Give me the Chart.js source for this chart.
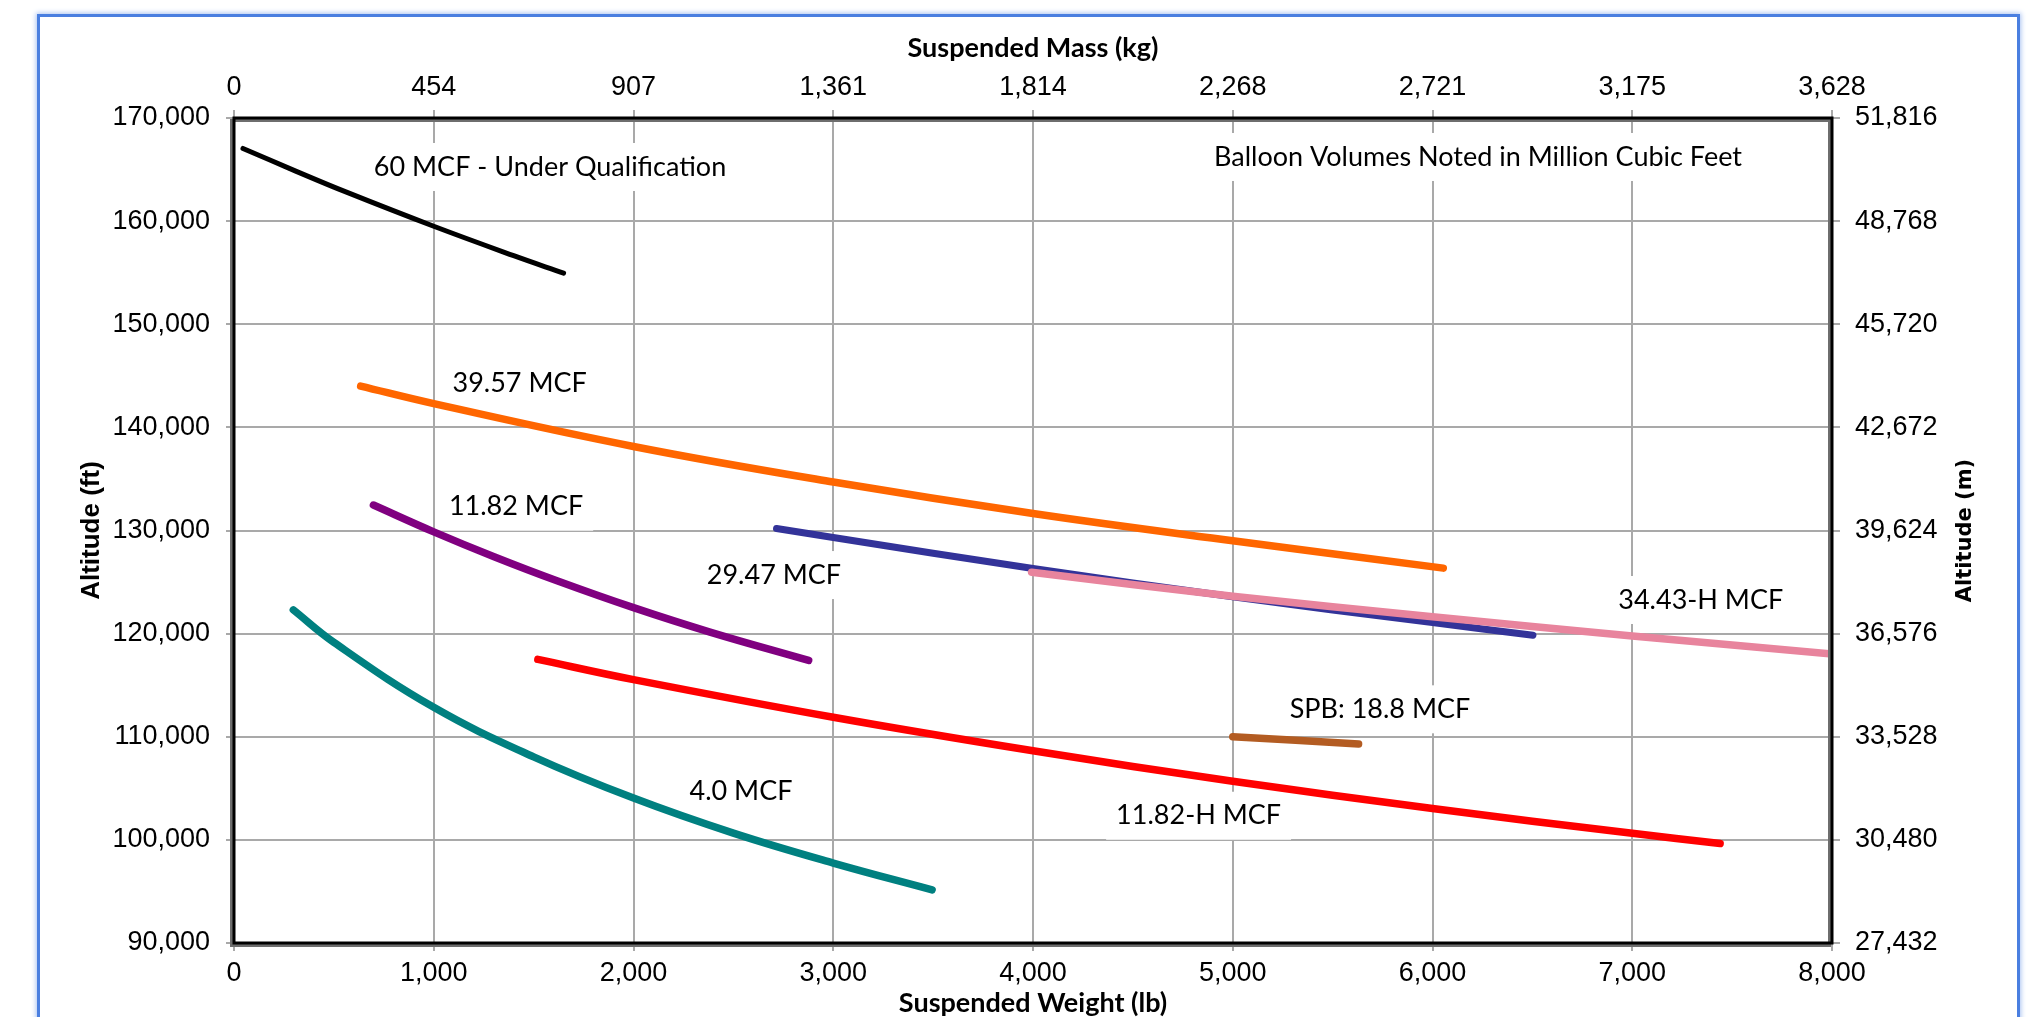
<!DOCTYPE html>
<html>
<head>
<meta charset="utf-8">
<script src="https://cdn.jsdelivr.net/npm/chart.js@4.4.0/dist/chart.umd.min.js"></script>
<style>
  html, body { margin: 0; padding: 0; background: #fff; overflow: hidden; }
  #frame { position: absolute; left: 37px; top: 14px; width: 1977px; height: 1100px;
           border: 3px solid #4a7fe0; box-shadow: 0 0 5px 1px #a9c2f2; }
  #wrap { position: absolute; left: 0; top: 0; width: 2028px; height: 1060px; }
</style>
</head>
<body>
<div id="frame"></div>
<div id="wrap"><canvas id="altChart" width="2028" height="1060"></canvas></div>
<script>
// tick labels
const weightLabels = ['0', '1,000', '2,000', '3,000', '4,000', '5,000', '6,000', '7,000', '8,000'];
const massLabels = ['0', '454', '907', '1,361', '1,814', '2,268', '2,721', '3,175', '3,628'];
const altFtLabels = ['90,000', '100,000', '110,000', '120,000', '130,000', '140,000', '150,000', '160,000', '170,000'];
const altMLabels = ['27,432', '30,480', '33,528', '36,576', '39,624', '42,672', '45,720', '48,768', '51,816'];

// suspended weight (lb) / altitude (ft)
const w60 = [45, 309, 560, 1000, 1400, 1650];
const alt60 = [167050, 164850, 162830, 159500, 156650, 154950];

const w3957 = [634, 1000, 2000, 3000, 4000, 5000, 6054];
const alt3957 = [144000, 142300, 138150, 134700, 131650, 129000, 126350];

const w3443h = [3993, 5000, 6000, 7000, 8000];
const alt3443h = [125950, 123630, 121630, 119780, 118030];

const w2947 = [2716, 3000, 4000, 5000, 6000, 6503];
const alt2947 = [130200, 129320, 126320, 123570, 121070, 119850];

const w1182 = [698, 1000, 1302, 1617, 2000, 2383, 2877];
const alt1182 = [132470, 129870, 127460, 125130, 122520, 120150, 117400];

const w1182h = [1521, 2000, 3000, 4000, 5000, 6000, 7000, 7440];
const alt1182h = [117500, 115540, 111890, 108640, 105690, 103040, 100640, 99650];

const w40 = [297, 500, 1000, 1500, 2000, 2500, 3000, 3495];
const alt40 = [122300, 119150, 112850, 108050, 104050, 100650, 97750, 95150];

const wSpb = [5000, 5630];
const altSpb = [110000, 109300];

// text notes on the plot, anchored in lb / ft
const notes = [
    { text: '60 MCF - Under Qualification', x: 1582, y: 165250 },
    { text: 'Balloon Volumes Noted in Million Cubic Feet', x: 6228, y: 166220 },
    { text: '39.57 MCF', x: 1430, y: 144270 },
    { text: '11.82 MCF', x: 1412, y: 132310 },
    { text: '29.47 MCF', x: 2703, y: 125680 },
    { text: '4.0 MCF', x: 2538, y: 104670 },
    { text: '34.43-H MCF', x: 7343, y: 123260 },
    { text: 'SPB: 18.8 MCF', x: 5737, y: 112660 },
    { text: '11.82-H MCF', x: 4829, y: 102340 }
];

const series = [
    { label: '60 MCF', w: w60, a: alt60, color: '#000000', width: 5 },
    { label: '39.57 MCF', w: w3957, a: alt3957, color: '#ff6600', width: 7.5 },
    { label: '34.43-H MCF', w: w3443h, a: alt3443h, color: '#e8849d', width: 7.5 },
    { label: '29.47 MCF', w: w2947, a: alt2947, color: '#333399', width: 7 },
    { label: '11.82 MCF', w: w1182, a: alt1182, color: '#800080', width: 7.5 },
    { label: '11.82-H MCF', w: w1182h, a: alt1182h, color: '#ff0000', width: 7.5 },
    { label: '4.0 MCF', w: w40, a: alt40, color: '#008080', width: 7.5 },
    { label: 'SPB: 18.8 MCF', w: wSpb, a: altSpb, color: '#b35c22', width: 7.5 }
];

const gridColor = '#a9a9a9';
const tickFont = { family: 'Liberation Sans', size: 27 };

// white note boxes go under the curves but over the grid
const notesPlugin = {
    id: 'notes',
    beforeDatasetsDraw(chart) {
        const { ctx, scales: { x, y } } = chart;
        ctx.save();
        ctx.font = '27px Lato';
        ctx.textAlign = 'center';
        ctx.textBaseline = 'middle';
        notes.forEach(n => {
            const px = x.getPixelForValue(n.x);
            const py = y.getPixelForValue(n.y);
            const w = ctx.measureText(n.text).width;
            ctx.fillStyle = '#ffffff';
            ctx.fillRect(px - w / 2 - 10, py - 24, w + 20, 48);
            ctx.fillStyle = '#000000';
            ctx.fillText(n.text, px, py);
        });
        ctx.restore();
    },
    afterDatasetsDraw(chart) {
        // plot frame: black line with a grey shadow down-left
        const { ctx, chartArea: a } = chart;
        ctx.save();
        ctx.lineWidth = 3;
        ctx.strokeStyle = '#6e6e6e';
        ctx.strokeRect(a.left - 2.5, a.top + 2.5, a.right - a.left, a.bottom - a.top);
        ctx.strokeStyle = '#000000';
        ctx.strokeRect(a.left, a.top, a.right - a.left, a.bottom - a.top);
        ctx.restore();
    },
    afterDraw(chart) {
        // right axis title reads bottom to top
        const { ctx, chartArea: a } = chart;
        ctx.save();
        ctx.translate(1966, (a.top + a.bottom) / 2);
        ctx.rotate(-Math.PI / 2);
        ctx.font = 'bold 21px "DejaVu Sans"';
        ctx.fillStyle = '#000000';
        ctx.textAlign = 'center';
        ctx.textBaseline = 'middle';
        ctx.fillText('Altitude (m)', 0, 0);
        ctx.restore();
    }
};

const ctx = document.getElementById('altChart').getContext('2d');

new Chart(ctx, {
    type: 'scatter',
    data: {
        datasets: series.map(s => ({
            label: s.label,
            data: s.w.map((v, i) => ({ x: v, y: s.a[i] })),
            showLine: true,
            borderColor: s.color,
            backgroundColor: s.color,
            borderWidth: s.width,
            borderCapStyle: 'round',
            borderJoinStyle: 'round',
            tension: 0.4,
            pointRadius: 0,
            pointHoverRadius: 0
        }))
    },
    options: {
        responsive: false,
        animation: false,
        layout: { padding: { left: 72, right: 48, top: 28, bottom: 37 } },
        plugins: {
            legend: { display: false },
            tooltip: { enabled: false }
        },
        scales: {
            x: {
                type: 'linear',
                position: 'bottom',
                min: 0,
                max: 8000,
                ticks: {
                    stepSize: 1000,
                    autoSkip: false,
                    maxRotation: 0,
                    padding: 6,
                    color: '#000',
                    font: tickFont,
                    callback: (v, i) => weightLabels[i]
                },
                grid: { color: gridColor, lineWidth: 2, tickLength: 8, tickColor: gridColor },
                border: { display: false },
                title: {
                    display: true,
                    text: 'Suspended Weight (lb)',
                    color: '#000',
                    font: { family: 'Lato', size: 27, weight: 'bold' }
                },
                afterFit: s => { s.height = 80; }
            },
            x2: {
                type: 'linear',
                position: 'top',
                min: 0,
                max: 8000,
                ticks: {
                    stepSize: 1000,
                    autoSkip: false,
                    maxRotation: 0,
                    padding: 6,
                    color: '#000',
                    font: tickFont,
                    callback: (v, i) => massLabels[i]
                },
                grid: { drawOnChartArea: false, tickLength: 8, tickColor: gridColor, lineWidth: 2 },
                border: { display: false },
                title: {
                    display: true,
                    text: 'Suspended Mass (kg)',
                    color: '#000',
                    font: { family: 'Lato', size: 27, weight: 'bold' }
                },
                afterFit: s => { s.height = 90; }
            },
            y: {
                type: 'linear',
                position: 'left',
                min: 90000,
                max: 170000,
                ticks: {
                    stepSize: 10000,
                    autoSkip: false,
                    padding: 16,
                    color: '#000',
                    font: tickFont,
                    callback: (v, i) => altFtLabels[i]
                },
                grid: { color: gridColor, lineWidth: 2, tickLength: 8, tickColor: gridColor },
                border: { display: false },
                title: {
                    display: true,
                    text: 'Altitude (ft)',
                    color: '#000',
                    font: { family: 'Liberation Sans', size: 26, weight: 'bold' }
                },
                afterFit: s => { s.width = 162; }
            },
            y2: {
                type: 'linear',
                position: 'right',
                min: 90000,
                max: 170000,
                ticks: {
                    stepSize: 10000,
                    autoSkip: false,
                    padding: 15,
                    color: '#000',
                    font: tickFont,
                    callback: (v, i) => altMLabels[i]
                },
                grid: { drawOnChartArea: false, tickLength: 8, tickColor: gridColor, lineWidth: 2 },
                border: { display: false },
                afterFit: s => { s.width = 148; }
            }
        }
    },
    plugins: [notesPlugin]
});
</script>
</body>
</html>
